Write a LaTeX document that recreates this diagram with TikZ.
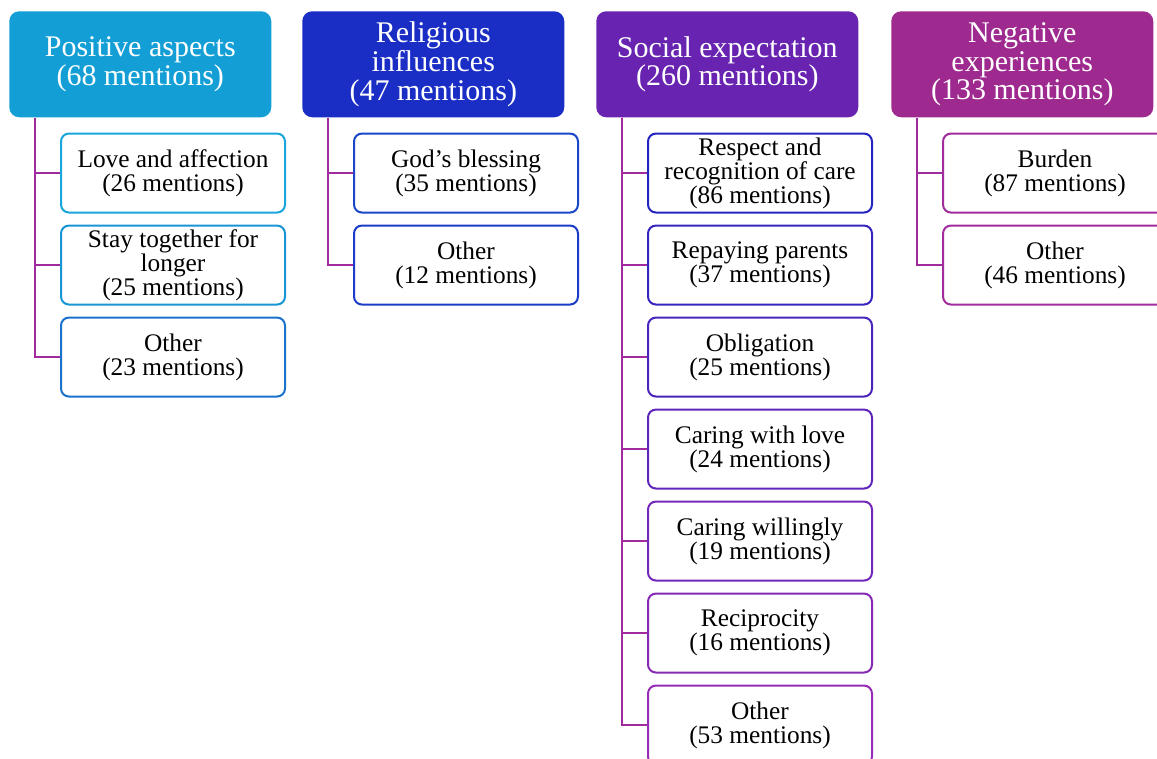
\documentclass[tikz,border=0pt]{standalone}
\usepackage{xcolor}
\usepackage{fontspec}
\setmainfont{Liberation Serif}
\usetikzlibrary{positioning}
\definecolor{poshd}{HTML}{139FD6}
\definecolor{relhd}{HTML}{1A2EC6}
\definecolor{sochd}{HTML}{6823B0}
\definecolor{neghd}{HTML}{9E2A90}
\definecolor{posa}{HTML}{19A6DC}
\definecolor{posb}{HTML}{1895D5}
\definecolor{posc}{HTML}{1A72CC}
\definecolor{rela}{HTML}{1A46C8}
\definecolor{relb}{HTML}{1A3CC6}
\definecolor{soca}{HTML}{2424C0}
\definecolor{socb}{HTML}{3624BE}
\definecolor{socc}{HTML}{4A25BC}
\definecolor{socd}{HTML}{5E26BA}
\definecolor{soce}{HTML}{7228B8}
\definecolor{socf}{HTML}{862AB6}
\definecolor{socg}{HTML}{962CB6}
\definecolor{negb}{HTML}{A02C9E}
\definecolor{trunk}{HTML}{A02B9E}

\begin{document}
\begin{tikzpicture}[x=0.75pt, y=-0.75pt,
  hdr/.style={rounded corners=7.5pt, anchor=north west, align=center, text=white, minimum width=196.5pt, minimum height=79.5pt, inner sep=1pt, font=\fontsize{22.5}{21.5}\selectfont},
  sub/.style={draw, fill=white, line width=1.5pt, rounded corners=6pt, align=center, minimum width=168pt, minimum height=59.25pt, inner sep=1pt, font=\fontsize{19}{18}\selectfont},
  first/.style={sub, anchor=north west},
  tree/.style={draw=trunk, line width=1.5pt}]
\useasboundingbox (0,0) rectangle (1157,758);
\clip (0,0) rectangle (1157,758);
% column headers
\node[hdr, fill=poshd] (pos) at (9,11) {Positive aspects\\(68 mentions)};
\node[hdr, fill=relhd] (rel) at (302,11) {Religious\\influences\\(47 mentions)};
\node[hdr, fill=sochd] (soc) at (596,11) {Social expectation\\(260 mentions)};
\node[hdr, fill=neghd] (neg) at (891,11) {Negative\\experiences\\(133 mentions)};
% positive aspects
\node[first, draw=posa] (pos1) at ([shift={(51,15)}]pos.south west) {Love and affection\\(26 mentions)};
\node[sub, draw=posb, below=8.25pt of pos1] (pos2) {Stay together for\\longer\\(25 mentions)};
\node[sub, draw=posc, below=8.25pt of pos2] (pos3) {Other\\(23 mentions)};
% religious influences
\node[first, draw=rela] (rel1) at ([shift={(51,15)}]rel.south west) {God's blessing\\(35 mentions)};
\node[sub, draw=relb, below=8.25pt of rel1] (rel2) {Other\\(12 mentions)};
% social expectation
\node[first, draw=soca] (soc1) at ([shift={(51,15)}]soc.south west) {Respect and\\recognition of care\\(86 mentions)};
\node[sub, draw=socb, below=8.25pt of soc1] (soc2) {Repaying parents\\(37 mentions)};
\node[sub, draw=socc, below=8.25pt of soc2] (soc3) {Obligation\\(25 mentions)};
\node[sub, draw=socd, below=8.25pt of soc3] (soc4) {Caring with love\\(24 mentions)};
\node[sub, draw=soce, below=8.25pt of soc4] (soc5) {Caring willingly\\(19 mentions)};
\node[sub, draw=socf, below=8.25pt of soc5] (soc6) {Reciprocity\\(16 mentions)};
\node[sub, draw=socg, below=8.25pt of soc6] (soc7) {Other\\(53 mentions)};
% negative experiences
\node[first, draw=negb] (neg1) at ([shift={(51,15)}]neg.south west) {Burden\\(87 mentions)};
\node[sub, draw=negb, below=8.25pt of neg1] (neg2) {Other\\(46 mentions)};
% tree lines
\foreach \c in {pos1,pos2,pos3} \draw[tree] ([xshift=19.5pt]pos.south west) |- (\c.west);
\foreach \c in {rel1,rel2} \draw[tree] ([xshift=19.5pt]rel.south west) |- (\c.west);
\foreach \c in {soc1,soc2,soc3,soc4,soc5,soc6,soc7} \draw[tree] ([xshift=19.5pt]soc.south west) |- (\c.west);
\foreach \c in {neg1,neg2} \draw[tree] ([xshift=19.5pt]neg.south west) |- (\c.west);
\end{tikzpicture}
\end{document}
